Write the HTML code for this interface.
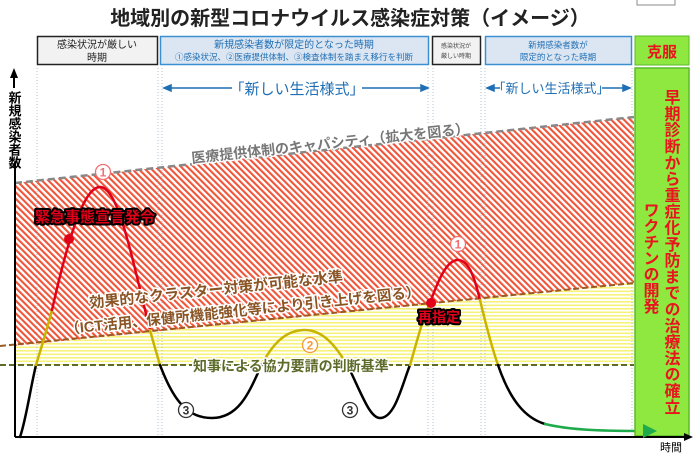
<!DOCTYPE html>
<html><head><meta charset="utf-8"><style>
body{margin:0;background:#fff;}
svg{display:block;font-family:"Liberation Sans","Noto Sans CJK JP",sans-serif;}
.o{paint-order:stroke;stroke:#fff;stroke-width:3px;stroke-linejoin:round;}
.k{paint-order:stroke;stroke:#000;stroke-width:4px;stroke-linejoin:round;}
</style></head><body>
<svg width="700" height="455" viewBox="0 0 700 455" xmlns="http://www.w3.org/2000/svg">
<defs>
<pattern id="rh" width="4.5" height="4.5" patternUnits="userSpaceOnUse" patternTransform="rotate(-45)">
<rect width="4.5" height="4.5" fill="#fff"/><rect width="2.1" height="4.5" fill="#f0553a"/></pattern>
<pattern id="yh" width="4" height="3.5" patternUnits="userSpaceOnUse">
<rect width="4" height="3.5" fill="#fff"/><rect width="4" height="1.6" fill="#f7f37a"/></pattern>
</defs>
<text x="350" y="25" font-size="20" font-weight="bold" text-anchor="middle" fill="#222">地域別の新型コロナウイルス感染症対策（イメージ）</text>
<rect x="637" y="-1" width="38" height="6" fill="#fff" stroke="#888"/>
<!-- header boxes -->
<rect x="37.5" y="36.5" width="120" height="28" fill="#f2f2f2" stroke="#222" stroke-width="1.5"/>
<text x="97" y="48" font-size="10" text-anchor="middle" fill="#222">感染状況が厳しい</text>
<text x="97" y="61" font-size="10" text-anchor="middle" fill="#222">時期</text>
<rect x="160.5" y="36.5" width="268" height="28" fill="#dce6f2" stroke="#3b8fd0" stroke-width="1.5"/>
<text x="294" y="48" font-size="10" text-anchor="middle" fill="#1f6fb5">新規感染者数が限定的となった時期</text>
<text x="294" y="60" font-size="8.5" text-anchor="middle" fill="#1f6fb5">①感染状況、②医療提供体制、③検査体制を踏まえ移行を判断</text>
<rect x="432.5" y="36.5" width="48" height="28" fill="#f2f2f2" stroke="#222" stroke-width="1.5"/>
<text x="456" y="48" font-size="6" text-anchor="middle" fill="#444">感染状況が</text>
<text x="456" y="58" font-size="6" text-anchor="middle" fill="#444">厳しい時期</text>
<rect x="485.5" y="36.5" width="146" height="28" fill="#dce6f2" stroke="#3b8fd0" stroke-width="1.5"/>
<text x="558" y="48" font-size="8.5" text-anchor="middle" fill="#1f6fb5">新規感染者数が</text>
<text x="558" y="60" font-size="8.5" text-anchor="middle" fill="#1f6fb5">限定的となった時期</text>
<rect x="635" y="36" width="54" height="29" fill="#8ee83f" stroke="#5cb82a" stroke-width="1"/>
<text x="662" y="57" font-size="15" font-weight="bold" text-anchor="middle" fill="#e8141e">克服</text>
<!-- regions -->
<polygon points="15,183 634,117 634,283 15,346" fill="url(#rh)"/>
<polygon points="15,346 634,283 634,365 15,365" fill="url(#yh)"/>
<!-- vertical dotted -->
<g stroke="#9fb4c8" stroke-width="0.8" stroke-dasharray="1,2">
<line x1="37" y1="68" x2="37" y2="437"/><line x1="158" y1="68" x2="158" y2="437"/>
<line x1="162" y1="68" x2="162" y2="437"/><line x1="428" y1="68" x2="428" y2="437"/>
<line x1="433" y1="68" x2="433" y2="437"/><line x1="481" y1="68" x2="481" y2="437"/>
<line x1="485" y1="68" x2="485" y2="437"/><line x1="632" y1="68" x2="632" y2="437"/>
</g>
<!-- arrows 新しい生活様式 -->
<g stroke="#1f6fb5" stroke-width="1.5" fill="#1f6fb5">
<line x1="168" y1="88" x2="232" y2="88"/><line x1="362" y1="88" x2="425" y2="88"/>
<polygon points="164,88 171,85 171,91"/><polygon points="428,88 421,85 421,91"/>
<line x1="491" y1="88" x2="500" y2="88"/><line x1="602" y1="88" x2="626" y2="88"/>
<polygon points="487,88 494,85 494,91"/><polygon points="630,88 623,85 623,91"/>
</g>
<text x="297" y="94" font-size="15" text-anchor="middle" fill="#1f6fb5">「新しい生活様式」</text>
<text x="551" y="93" font-size="13" text-anchor="middle" fill="#1f6fb5">「新しい生活様式」</text>
<!-- lines -->
<line x1="15" y1="183" x2="634" y2="117" stroke="#888" stroke-width="2.5" stroke-dasharray="7,4"/>
<line x1="0" y1="346" x2="634" y2="283" stroke="#9a5a20" stroke-width="2" stroke-dasharray="6,3"/>
<line x1="0" y1="365" x2="634" y2="365" stroke="#5c6b2a" stroke-width="2" stroke-dasharray="6,3"/>
<!-- labels -->
<text transform="translate(192,163) rotate(-6.1)" font-size="14" font-weight="bold" fill="#777" class="o">医療提供体制のキャパシティ（拡大を図る）</text>
<!-- curve -->
<g fill="none" stroke-width="2.5" stroke-linecap="round">
<path d="M20,437 C26,420 30,390 36,365" stroke="#000"/>
<path d="M36,365 C42,345 46,333 52,310" stroke="#c8b400"/>
<path d="M52,310 C70,230 85,187 100,187 C118,187 130,250 150,330" stroke="#e0001a"/>
<path d="M150,330 C154,345 157,355 160,365" stroke="#c8b400"/>
<path d="M160,365 C175,405 190,418 212,418 C240,418 250,390 262,364" stroke="#000"/>
<path d="M262,364 C275,340 288,330 305,330 C325,330 338,350 348,366" stroke="#c8b400"/>
<path d="M348,366 C362,395 370,418 380,418 C395,418 402,385 410,365" stroke="#000"/>
<path d="M410,365 C416,345 422,320 430,303" stroke="#c8b400"/>
<path d="M430,303 C440,275 448,260 458,260 C468,260 474,275 480,300" stroke="#e0001a"/>
<path d="M480,300 C486,325 492,348 498,365" stroke="#c8b400"/>
<path d="M498,365 C510,400 525,418 545,424" stroke="#000"/>
<path d="M545,424 C570,430 600,431 645,431" stroke="#1faa4b"/>
</g>
<text transform="translate(90,308) rotate(-6)" font-size="15" font-weight="bold" fill="#8a5424" class="o">効果的なクラスター対策が可能な水準</text>
<text transform="translate(66,334) rotate(-6)" font-size="14.5" font-weight="bold" fill="#8a5424" class="o">（ICT活用、保健所機能強化等により引き上げを図る）</text>
<text x="193" y="371" font-size="14" font-weight="bold" fill="#5c6b2a" class="o">知事による協力要請の判断基準</text>
<circle cx="69" cy="239" r="5" fill="#e0001a"/>
<circle cx="431" cy="303" r="5" fill="#e0001a"/>
<text x="35" y="222" font-size="15" font-weight="bold" fill="#e0001a" class="k">緊急事態宣言発令</text>
<text x="418" y="322" font-size="14" font-weight="bold" fill="#e0001a" class="k">再指定</text>
<!-- circled numbers -->
<g font-size="12" font-weight="bold" text-anchor="middle" stroke-width="1.3">
<circle cx="103" cy="172" r="7.5" fill="#fff" stroke="#f07070"/><text x="103" y="176.5" fill="#f07070">1</text>
<circle cx="458" cy="244" r="7.5" fill="#fff" stroke="#f07070"/><text x="458" y="248.5" fill="#f07070">1</text>
<circle cx="310" cy="345" r="7.5" fill="#fff" stroke="#f59a3c"/><text x="310" y="349.5" fill="#f59a3c">2</text>
<circle cx="186" cy="410" r="7.5" fill="#fff" stroke="#333"/><text x="186" y="414.5" fill="#333">3</text>
<circle cx="350" cy="410" r="7.5" fill="#fff" stroke="#333"/><text x="350" y="414.5" fill="#333">3</text>
</g>
<!-- green panel -->
<rect x="635" y="68" width="54" height="368" fill="#8ee83f" stroke="#5cb82a" stroke-width="1.5"/>
<text x="670" y="89" font-size="16" font-weight="bold" fill="#e8141e" style="writing-mode:vertical-rl" letter-spacing="0.3">早期診断から重症化予防までの治療法の確立</text>
<text x="649" y="202" font-size="16" font-weight="bold" fill="#e8141e" style="writing-mode:vertical-rl">ワクチンの開発</text>
<!-- axes -->
<line x1="15" y1="437" x2="15" y2="162" stroke="#000" stroke-width="2"/>
<line x1="14" y1="88" x2="14" y2="76" stroke="#000" stroke-width="2"/>
<polygon points="14,68 10,78 18,78" fill="#000"/>
<text x="14" y="91" font-size="13" fill="#000" font-weight="bold" style="writing-mode:vertical-rl">新規感染者数</text>
<line x1="15" y1="437" x2="688" y2="437" stroke="#000" stroke-width="2"/>
<polygon points="693,437 684,433 684,441" fill="#000"/>
<polygon points="643,424 657,431 643,438" fill="#1faa4b"/>
<text x="671" y="451" font-size="11" fill="#000" text-anchor="middle">時間</text>
</svg>
</body></html>
